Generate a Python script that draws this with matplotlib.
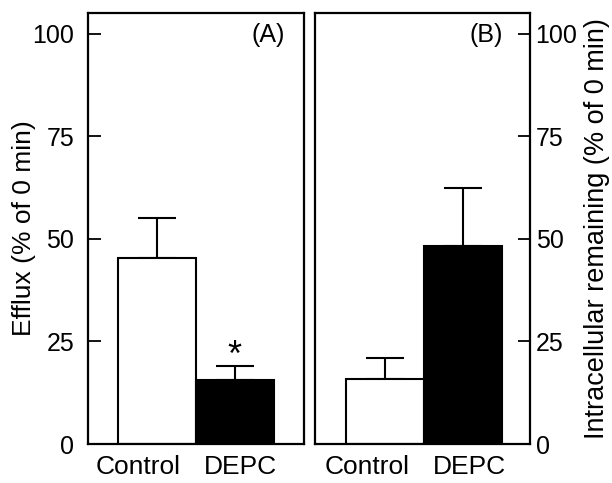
import numpy as np
import matplotlib
matplotlib.use("Agg")
import matplotlib.pyplot as plt
from matplotlib.transforms import ScaledTranslation

plt.rcParams['font.family'] = ['Liberation Sans', 'DejaVu Sans']

# data
groups = ['Control', 'DEPC']
efflux = [45.2, 15.6]
efflux_err = [9.8, 3.5]
remaining = [15.8, 48.3]
remaining_err = [5.2, 14.1]
colors = ['white', 'black']

W, H = 612, 483
fig = plt.figure(figsize=(W / 100, H / 100), dpi=100)

ax_a = fig.add_axes([88 / W, 39 / H, 216 / W, 431 / H])
ax_b = fig.add_axes([315 / W, 39 / H, 215 / W, 431 / H])

x = np.arange(len(groups))
# the category labels sit a bit apart from the bar centres (in px)
label_shift = [-18, 6]


def draw_panel(ax, vals, errs, xlim):
    ax.bar(x, vals, width=1.0, color=colors, edgecolor='black', linewidth=1.5,
           zorder=2)
    ax.errorbar(x, vals, yerr=[np.zeros(len(vals)), errs], fmt='none',
                ecolor='black', elinewidth=1.5, capsize=14, capthick=1.5,
                zorder=1)
    ax.set_xlim(*xlim)
    ax.set_ylim(0, 105)
    ax.set_yticks([0, 25, 50, 75, 100])
    ax.set_xticks(x)
    ax.set_xticklabels(groups, fontsize=19)
    ax.tick_params(axis='x', length=0, pad=8)
    for lab, dx in zip(ax.get_xticklabels(), label_shift):
        lab.set_transform(lab.get_transform()
                          + ScaledTranslation(dx / 100, 0, fig.dpi_scale_trans))
    for s in ax.spines.values():
        s.set_linewidth(1.6)


draw_panel(ax_a, efflux, efflux_err, (-0.88, 1.89))
ax_a.tick_params(axis='y', direction='in', length=9, width=1.3,
                 labelsize=18, pad=10)
ax_a.set_ylabel('Efflux (% of 0 min)', fontsize=19, labelpad=-3)
ax_a.text(0.912, 0.95, '(A)', transform=ax_a.transAxes, ha='right',
          va='center', fontsize=18)
ax_a.text(x[1], efflux[1] + efflux_err[1] + 2.3, '*', ha='center',
          va='center', fontsize=26)

draw_panel(ax_b, remaining, remaining_err, (-0.9, 1.86))
ax_b.yaxis.tick_right()
ax_b.yaxis.set_label_position('right')
ax_b.tick_params(axis='y', direction='in', length=9, width=1.3,
                 labelsize=18, pad=4, left=False, right=True)
ax_b.set_ylabel('Intracellular remaining (% of 0 min)', fontsize=19.5,
                labelpad=5)
ax_b.text(0.874, 0.95, '(B)', transform=ax_b.transAxes, ha='right',
          va='center', fontsize=18)

fig.savefig('out.png', dpi=100)
